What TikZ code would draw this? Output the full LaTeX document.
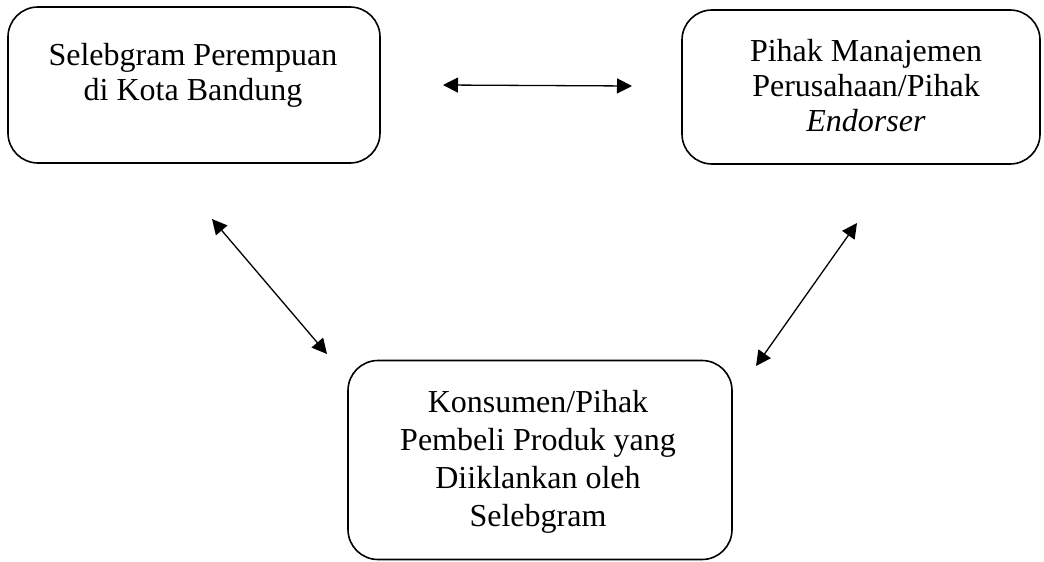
\documentclass[tikz,border=0pt]{standalone}
\usepackage{fontspec}
\setmainfont{Liberation Serif}
\usetikzlibrary{arrows.meta}
\tikzset{
  box/.style={draw, line width=1.6pt, rounded corners=30pt, inner sep=0pt},
  txt/.style={align=center, inner sep=0pt, font=\fontsize{32}{35}\selectfont},
  link/.style={line width=1.3pt, {Triangle[length=15pt,width=15pt]}-{Triangle[length=15pt,width=15pt]}}
}
\begin{document}
\begin{tikzpicture}[x=1pt,y=-1pt]
\useasboundingbox (0,0) rectangle (1044,562);
\node[box, minimum width=372pt, minimum height=156pt] (sel) at (194,85) {};
\node[box, minimum width=358pt, minimum height=154pt] (man) at (861,87) {};
\node[box, minimum width=384pt, minimum height=199pt] (kon) at (540,460) {};
\node[txt] (selt) at (193,75) {Selebgram Perempuan\\di Kota Bandung};
\node[txt] (mant) at (866,86) {Pihak Manajemen\\Perusahaan/Pihak\\\textit{Endorser}};
\node[txt, font=\fontsize{32}{38}\selectfont] (kont) at (538,462) {Konsumen/Pihak\\Pembeli Produk yang\\Diiklankan oleh\\Selebgram};
\coordinate (h1) at (443,85);
\coordinate (h2) at (632,86);
\coordinate (l1) at (212,219);
\coordinate (l2) at (327,354);
\coordinate (r1) at (857,223);
\coordinate (r2) at (756,366);
\draw[link] (h1) -- (h2);
\draw[link] (l1) -- (l2);
\draw[link] (r1) -- (r2);
\end{tikzpicture}
\end{document}
